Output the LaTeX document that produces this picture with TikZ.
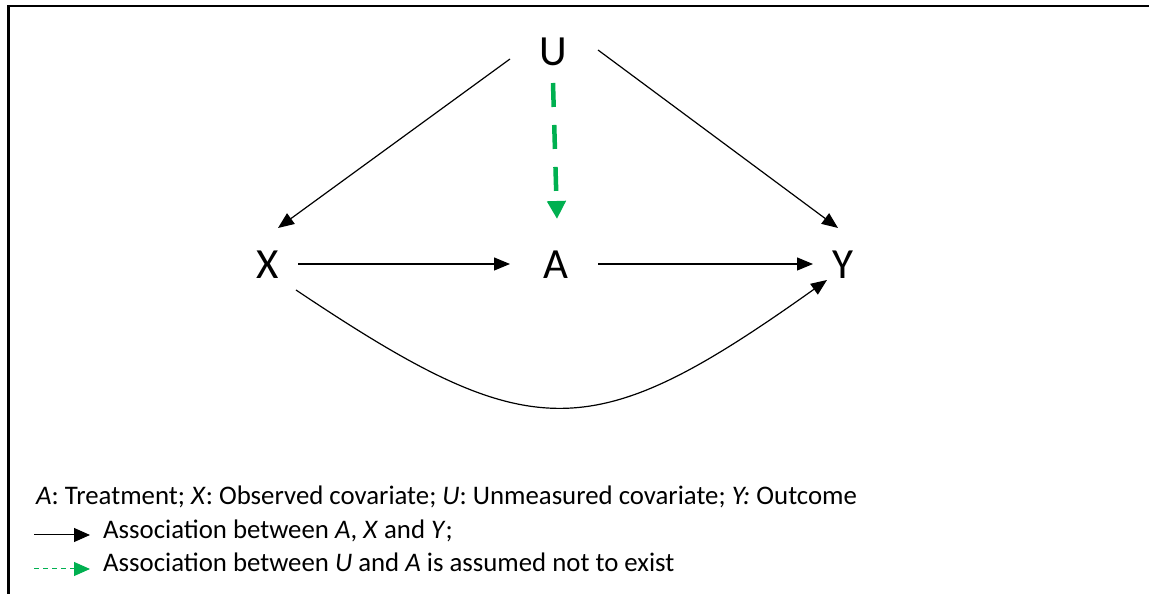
\documentclass[tikz,border=0pt]{standalone}
\usepackage{fontspec}
\setmainfont{Carlito}
\usepackage{tikz}
\usetikzlibrary{arrows.meta,calc}
\definecolor{DagInk}{HTML}{000000}
\definecolor{DagGreen}{HTML}{00B050}

\begin{document}
\begin{tikzpicture}[x=1pt,y=1pt,>={Triangle[length=16pt,width=13pt]},
  var/.style={inner sep=0pt,font=\fontsize{43}{50}\selectfont},
  key/.style={anchor=base west,inner sep=0pt,font=\fontsize{26.8}{32}\selectfont}]
  \useasboundingbox (0,0) rectangle (1149,594);
  \draw[DagInk,line width=2.4pt] (8.5,0) -- (8.5,588) -- (1149,588);
  \node[var] (U) at (553,542) {U};
  \node[var] (X) at (268,329) {X};
  \node[var] (A) at (556,329) {A};
  \node[var] (Y) at (843,329) {Y};
  \draw[->,DagInk,line width=1.2pt] ($(U)+(-43,-7)$) -- ($(X)+(10,37)$);
  \draw[->,DagInk,line width=1.2pt] ($(U)+(45,2)$) -- ($(Y)+(-5,37)$);
  \draw[->,DagInk,line width=1.2pt] ($(X)+(30,1)$) -- ($(A)+(-46,1)$);
  \draw[->,DagInk,line width=1.2pt] ($(A)+(42,1)$) -- ($(Y)+(-30,1)$);
  \draw[->,DagInk,line width=1.2pt] ($(X)+(28,-25)$)
    .. controls +(236,-158) and +(-236,-168) .. ($(Y)+(-16,-15)$);
  \draw[-{Triangle[length=18pt,width=18pt]},DagGreen,line width=4.5pt,
    dash pattern=on 24pt off 18pt] ($(U)+(0,-31)$) -- ($(A)+(1,46)$);
  \node[key] (keyvars) at (36,89) {\textit{A}: Treatment; \textit{X}: Observed covariate; \textit{U}: Unmeasured covariate; \textit{Y:} Outcome};
  \coordinate (solidfrom) at (34,59);
  \coordinate (solidto) at (90,59);
  \draw[-{Triangle[length=16pt,width=14pt]},DagInk,line width=1pt] (solidfrom) -- (solidto);
  \node[key] (keysolid) at (103,55) {Association between \textit{A}, \textit{X} and \textit{Y};};
  \coordinate (dashfrom) at (34,25);
  \coordinate (dashto) at (90,25);
  \draw[-{Triangle[length=16pt,width=14pt]},DagGreen,line width=1pt,
    dash pattern=on 5pt off 4pt] (dashfrom) -- (dashto);
  \node[key] (keydash) at (103,22) {Association between \textit{U} and \textit{A} is assumed not to exist};
\end{tikzpicture}
\end{document}
